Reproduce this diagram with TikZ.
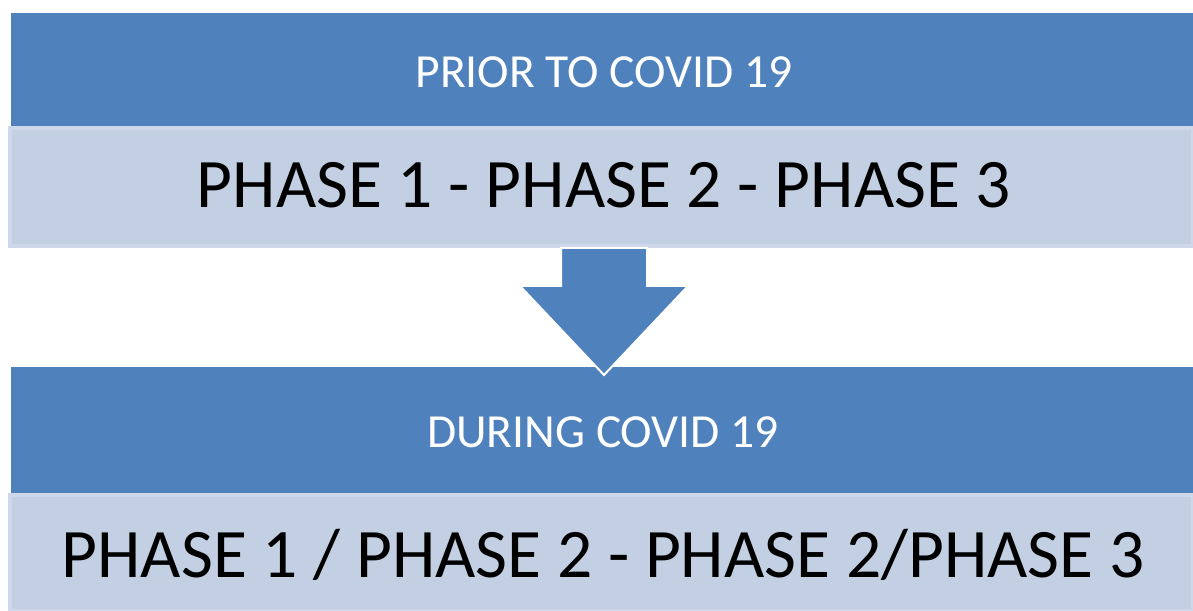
\documentclass[tikz,border=0pt]{standalone}
\usepackage{fontspec}
\setmainfont{Carlito}
\definecolor{bandblue}{HTML}{4F81BD}
\definecolor{lightfill}{HTML}{C3CFE2}
\definecolor{lightrim}{HTML}{CED8EA}
\begin{document}
\begin{tikzpicture}[x=1pt,y=1pt,
  band/.style={fill=bandblue, draw=none, inner sep=0pt},
  panel/.style={fill=lightfill, draw=lightrim, line width=4pt, inner sep=0pt},
  headtxt/.style={inner sep=0pt, text=white, font=\fontsize{47.5}{52}\selectfont},
  maintxt/.style={inner sep=0pt, text=black, font=\fontsize{69.5}{74}\selectfont}]
\useasboundingbox (0,0) rectangle (1193,610);
\fill[white] (0,0) rectangle (1193,610);
% top
\node[band, minimum width=1182pt, minimum height=113pt] (topband) at (602,540.5) {};
\node[headtxt] (toptext) at (604,537.5) {PRIOR TO COVID 19};
\node[panel, minimum width=1183pt, minimum height=118pt] (toppanel) at (601.5,423) {};
\node[maintxt] (toppaneltext) at (604,425) {PHASE 1 - PHASE 2 - PHASE 3};
% bottom
\node[band, minimum width=1182pt, minimum height=128pt] (botband) at (602,179) {};
\node[headtxt] (bottext) at (603,177.5) {DURING COVID 19};
\node[panel, minimum width=1183pt, minimum height=116pt] (botpanel) at (601.5,57) {};
\node[maintxt] (botpaneltext) at (603,55) {PHASE 1 / PHASE 2 - PHASE 2/PHASE 3};
% arrow
\draw[fill=bandblue, draw=white, line width=2pt, line join=miter]
  (561,362) -- (647,362) -- (647,324) -- (688,324) -- (604,235) -- (520,324) -- (561,324) -- cycle;
\end{tikzpicture}
\end{document}
